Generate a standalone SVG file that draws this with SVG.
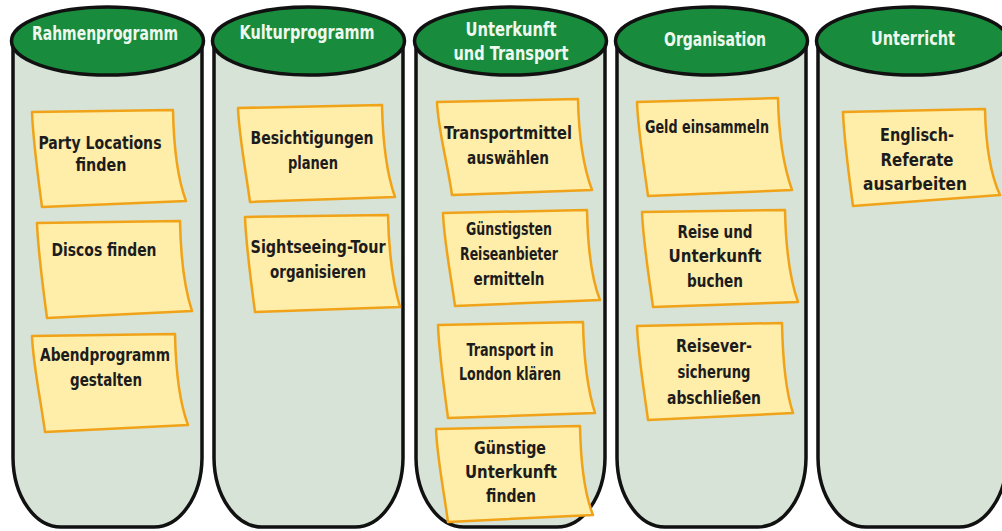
<svg xmlns="http://www.w3.org/2000/svg" width="1002" height="531" viewBox="0 0 1002 531">
<defs>
<style>
.body{fill:#d6e3d6;stroke:#111;stroke-width:3.5}
.cap{fill:#188c3c;stroke:#111;stroke-width:3.5}
.head{font-family:"Liberation Sans Narrow","DejaVu Sans Condensed",sans-serif;font-weight:bold;font-size:20px;fill:#eef8ee;text-anchor:middle}
.note{fill:#ffedaa;stroke:#f0a318;stroke-width:2.5;stroke-linejoin:round}
.t{font-family:"Liberation Sans Narrow","DejaVu Sans Condensed",sans-serif;font-weight:bold;font-size:18px;fill:#1c1c1c;text-anchor:middle}
</style>
</defs>
<rect width="1002" height="531" fill="#ffffff"/>

<g id="col-rahmenprogramm">
<path class="body" d="M13,42 V458 A48,70 0 0 0 61,527 H154 A48,70 0 0 0 202,458 V42 Z"/>
<ellipse class="cap" cx="107.5" cy="41" rx="96" ry="34"/>
<text class="head" x="105" y="40" textLength="146" lengthAdjust="spacingAndGlyphs">Rahmenprogramm</text>
</g>
<g id="col-kulturprogramm">
<path class="body" d="M214,42 V458 A48,70 0 0 0 262,527 H355 A48,70 0 0 0 403,458 V42 Z"/>
<ellipse class="cap" cx="308.5" cy="41" rx="96" ry="34"/>
<text class="head" x="307" y="39" textLength="135" lengthAdjust="spacingAndGlyphs">Kulturprogramm</text>
</g>
<g id="col-unterkunft">
<path class="body" d="M416,42 V458 A48,70 0 0 0 464,527 H557 A48,70 0 0 0 605,458 V42 Z"/>
<ellipse class="cap" cx="510.5" cy="41" rx="96" ry="34"/>
<text class="head" x="511" y="36" textLength="91" lengthAdjust="spacingAndGlyphs">Unterkunft</text>
<text class="head" x="511" y="60" textLength="115" lengthAdjust="spacingAndGlyphs">und Transport</text>
</g>
<g id="col-organisation">
<path class="body" d="M617,42 V458 A48,70 0 0 0 665,527 H758 A48,70 0 0 0 806,458 V42 Z"/>
<ellipse class="cap" cx="711.5" cy="41" rx="96" ry="34"/>
<text class="head" x="715" y="46" textLength="102" lengthAdjust="spacingAndGlyphs">Organisation</text>
</g>
<g id="col-unterricht">
<path class="body" d="M818,42 V458 A48,70 0 0 0 866,527 H959 A48,70 0 0 0 1007,458 V42 Z"/>
<ellipse class="cap" cx="912.5" cy="41" rx="96" ry="34"/>
<text class="head" x="913" y="45" textLength="84" lengthAdjust="spacingAndGlyphs">Unterricht</text>
</g>

<g id="note-party">
<path class="note" d="M32,112 L173,110 C174,160 180,185 186,201 L42,207 C38,177 33,140 32,112Z"/>
<text class="t" x="100" y="149" textLength="123" lengthAdjust="spacingAndGlyphs">Party Locations</text>
<text class="t" x="101" y="171" textLength="51" lengthAdjust="spacingAndGlyphs">finden</text>
</g>
<g id="note-discos">
<path class="note" d="M37,223 L180,221 C181,271 187,296 192,311 L47,318 C43,288 38,251 37,223Z"/>
<text class="t" x="104" y="256" textLength="105" lengthAdjust="spacingAndGlyphs">Discos finden</text>
</g>
<g id="note-abend">
<path class="note" d="M32,336 L175,334 C176,384 182,409 188,425 L45,432 C41,402 33,364 32,336Z"/>
<text class="t" x="105" y="361" textLength="130" lengthAdjust="spacingAndGlyphs">Abendprogramm</text>
<text class="t" x="106" y="386" textLength="72" lengthAdjust="spacingAndGlyphs">gestalten</text>
</g>
<g id="note-besichtigungen">
<path class="note" d="M238,108 L382,105 C383,155 389,180 395,197 L250,202 C246,172 239,136 238,108Z"/>
<text class="t" x="312" y="144" textLength="123" lengthAdjust="spacingAndGlyphs">Besichtigungen</text>
<text class="t" x="313" y="169" textLength="50" lengthAdjust="spacingAndGlyphs">planen</text>
</g>
<g id="note-sightseeing">
<path class="note" d="M245,217 L388,215 C389,265 395,290 400,307 L255,312 C251,282 246,245 245,217Z"/>
<text class="t" x="318" y="253" textLength="135" lengthAdjust="spacingAndGlyphs">Sightseeing-Tour</text>
<text class="t" x="318" y="278" textLength="96" lengthAdjust="spacingAndGlyphs">organisieren</text>
</g>
<g id="note-transportmittel">
<path class="note" d="M437,102 L578,99 C579,149 586,174 592,190 L452,195 C448,165 438,130 437,102Z"/>
<text class="t" x="508" y="139" textLength="128" lengthAdjust="spacingAndGlyphs">Transportmittel</text>
<text class="t" x="508" y="164" textLength="82" lengthAdjust="spacingAndGlyphs">auswählen</text>
</g>
<g id="note-reiseanbieter">
<path class="note" d="M443,213 L587,210 C588,260 594,285 600,300 L455,306 C451,276 444,241 443,213Z"/>
<text class="t" x="509" y="235" textLength="86" lengthAdjust="spacingAndGlyphs">Günstigsten</text>
<text class="t" x="509" y="260" textLength="98" lengthAdjust="spacingAndGlyphs">Reiseanbieter</text>
<text class="t" x="509" y="285" textLength="71" lengthAdjust="spacingAndGlyphs">ermitteln</text>
</g>
<g id="note-london">
<path class="note" d="M438,325 L583,322 C584,372 590,397 595,413 L448,418 C444,388 439,353 438,325Z"/>
<text class="t" x="510" y="356" textLength="87" lengthAdjust="spacingAndGlyphs">Transport in</text>
<text class="t" x="510" y="380" textLength="102" lengthAdjust="spacingAndGlyphs">London klären</text>
</g>
<g id="note-unterkunft">
<path class="note" d="M436,429 L580,426 C581,476 587,500 593,515 L448,522 C444,492 437,457 436,429Z"/>
<text class="t" x="510" y="454" textLength="72" lengthAdjust="spacingAndGlyphs">Günstige</text>
<text class="t" x="511" y="478" textLength="92" lengthAdjust="spacingAndGlyphs">Unterkunft</text>
<text class="t" x="511" y="502" textLength="50" lengthAdjust="spacingAndGlyphs">finden</text>
</g>
<g id="note-geld">
<path class="note" d="M637,102 L778,98 C779,148 786,173 792,190 L648,196 C644,166 638,130 637,102Z"/>
<text class="t" x="707" y="133" textLength="124" lengthAdjust="spacingAndGlyphs">Geld einsammeln</text>
</g>
<g id="note-reise">
<path class="note" d="M642,212 L785,210 C786,260 792,285 798,302 L653,307 C649,277 643,240 642,212Z"/>
<text class="t" x="715" y="238" textLength="75" lengthAdjust="spacingAndGlyphs">Reise und</text>
<text class="t" x="715" y="262" textLength="93" lengthAdjust="spacingAndGlyphs">Unterkunft</text>
<text class="t" x="715" y="287" textLength="56" lengthAdjust="spacingAndGlyphs">buchen</text>
</g>
<g id="note-versicherung">
<path class="note" d="M637,326 L782,323 C783,373 788,398 793,413 L648,420 C644,390 638,354 637,326Z"/>
<text class="t" x="714" y="352" textLength="76" lengthAdjust="spacingAndGlyphs">Reisever-</text>
<text class="t" x="714" y="378" textLength="73" lengthAdjust="spacingAndGlyphs">sicherung</text>
<text class="t" x="714" y="404" textLength="94" lengthAdjust="spacingAndGlyphs">abschließen</text>
</g>
<g id="note-englisch">
<path class="note" d="M843,112 L985,109 C986,159 994,182 1000,195 L853,206 C849,176 844,140 843,112Z"/>
<text class="t" x="917" y="141" textLength="74" lengthAdjust="spacingAndGlyphs">Englisch-</text>
<text class="t" x="917" y="166" textLength="73" lengthAdjust="spacingAndGlyphs">Referate</text>
<text class="t" x="915" y="190" textLength="104" lengthAdjust="spacingAndGlyphs">ausarbeiten</text>
</g>

<g id="connectors"></g>
</svg>
